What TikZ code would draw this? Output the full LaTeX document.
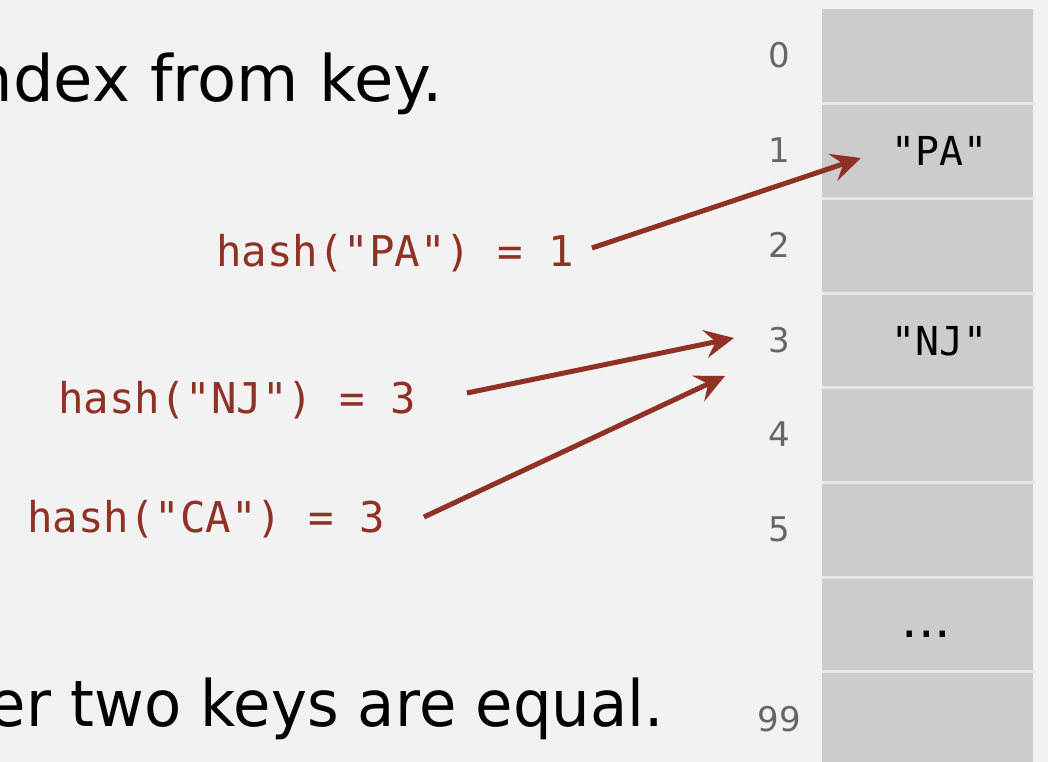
\documentclass[tikz,border=0pt]{standalone}
\usepackage{fontspec}
\usetikzlibrary{arrows.meta,calc}
\newfontfamily\monofont{DejaVu Sans Mono}
\newfontfamily\labelfont{DejaVu Sans}
\newfontfamily\narrowfont[FakeStretch=0.95]{DejaVu Sans}
\definecolor{bg}{HTML}{F2F2F2}
\definecolor{cellgray}{HTML}{CCCCCC}
\definecolor{sepline}{HTML}{E6E6E6}
\definecolor{idxgray}{HTML}{666666}
\definecolor{hashred}{HTML}{8F3125}
\tikzset{
  slot/.style={fill=cellgray, draw=none, inner sep=0pt,
    minimum width=158.25pt, minimum height=71.0pt},
  slotidx/.style={anchor=base, inner sep=0pt, text=idxgray,
    font=\labelfont\fontsize{25.5}{30}\selectfont},
  slotkey/.style={anchor=base, inner sep=0pt,
    font=\monofont\fontsize{29.9}{34}\selectfont},
  hashcall/.style={anchor=base west, inner sep=0pt, text=hashred,
    font=\monofont\fontsize{31.8}{36}\selectfont},
  bigtext/.style={anchor=base east, inner sep=0pt,
    font=\labelfont\fontsize{48}{56}\selectfont},
  hasharrow/.style={draw=hashred, line width=3.75pt,
    -{Stealth[length=22pt,width=21pt,inset=8pt]}},
}
\begin{document}
\begin{tikzpicture}[x=0.75pt,y=-0.75pt]
  \useasboundingbox (0,0) rectangle (1048,762);
  \clip (0,0) rectangle (1048,762);
  \fill[bg] (0,0) rectangle (1048,762);

  % hash table slots 0..5, the gap row and slot 99
  \foreach \k in {0,...,7}
    \node[slot] (s\k) at (927.5,{9+94.7*\k+47.35}) {};
  \foreach \k in {1,...,7}
    \draw[sepline, line width=2.25pt] (822,{9+94.7*\k}) -- (1035,{9+94.7*\k});

  % slot indices
  \foreach \k in {0,...,5}
    \node[slotidx] (i\k) at (779,{68+94.7*\k}) {\k};
  \node[slotidx] (i99) at (779,731) {99};

  % slot contents
  \node[slotkey] (kpa) at (939,166) {"PA"};
  \node[slotkey] (knj) at (939,355.5) {"NJ"};
  \node[anchor=base, inner sep=0pt, font=\labelfont\fontsize{39}{44}\selectfont] (dots) at (926.5,637) {...};

  % running text
  \node[bigtext] (top) at (443,102) {ndex from key.};
  \node[bigtext, font=\narrowfont\fontsize{48}{56}\selectfont] (bottom) at (664,726) {er two keys are equal.};

  % hash function calls
  \node[hashcall] (hpa) at (216,267) {hash("PA") = 1};
  \node[hashcall] (hnj) at (58,413) {hash("NJ") = 3};
  \node[hashcall] (hca) at (27,532) {hash("CA") = 3};

  % arrow tips at the slots
  \coordinate (tpa) at (861,158);
  \coordinate (tnj) at (734,338);
  \coordinate (tca) at (725,376);

  \draw[hasharrow] ($(hpa.base east)+(18,-19)$) -- (tpa);
  \draw[hasharrow] ($(hnj.base east)+(51,-20)$) -- (tnj);
  \draw[hasharrow] ($(hca.base east)+(39,-15)$) -- (tca);
\end{tikzpicture}
\end{document}
